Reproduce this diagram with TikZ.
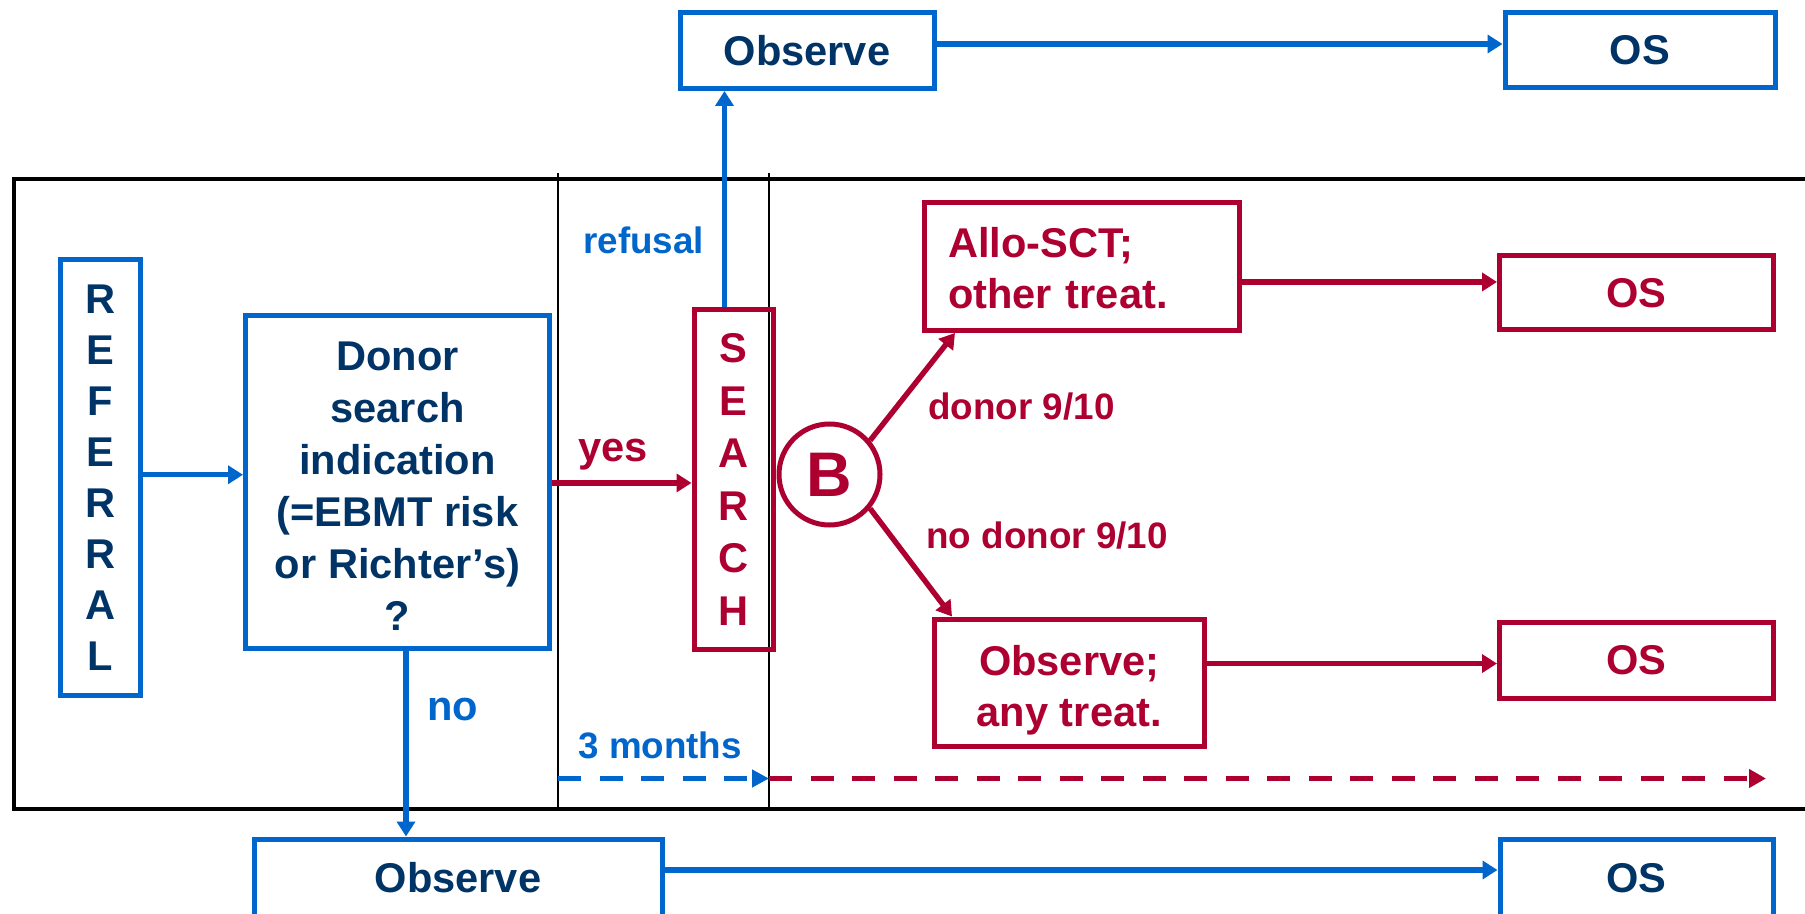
\documentclass[tikz,border=0pt]{standalone}
\usepackage{fontspec}
\setmainfont{Liberation Sans}
\usetikzlibrary{arrows.meta,calc}
\definecolor{cblue}{RGB}{0,102,204}
\definecolor{cnavy}{RGB}{0,51,102}
\definecolor{cred}{RGB}{173,0,48}
\begin{document}
\begin{tikzpicture}[x=0.5pt,y=-0.5pt,
  bbox/.style={draw=cblue,line width=2.5pt,text=cnavy,inner sep=0pt,align=center,
    font=\bfseries\fontsize{20.8pt}{26pt}\selectfont},
  rbox/.style={draw=cred,line width=2.5pt,text=cred,inner sep=0pt,align=center,
    font=\bfseries\fontsize{20.8pt}{25.5pt}\selectfont},
  tipA/.tip={Triangle[length=7.5pt,width=9pt]},
  barrow/.style={draw=cblue,line width=2.7pt,-tipA},
  rarrow/.style={draw=cred,line width=2.7pt,-tipA},
  blab/.style={text=cblue,inner sep=0pt,anchor=base west,font=\bfseries\fontsize{18.4pt}{22pt}\selectfont},
  rlab/.style={text=cred,inner sep=0pt,anchor=base west,font=\bfseries\fontsize{18.4pt}{22pt}\selectfont},
  biglab/.style={inner sep=0pt,anchor=base west,font=\bfseries\fontsize{20.8pt}{25pt}\selectfont},
  thinline/.style={draw=black,line width=0.75pt},
  dashline/.style={line width=2.6pt,dash pattern=on 11.5pt off 9.25pt}
]
\useasboundingbox (0,0) rectangle (1805,914);

% frame
\draw[line width=2pt] (1815,179) -- (13.5,179) -- (13.5,809) -- (1815,809);
\coordinate (v1t) at (558,173);
\coordinate (v1b) at (558,809);
\coordinate (v2t) at (769,173);
\coordinate (v2b) at (769,809);
\draw[thinline] (v1t) -- (v1b);
\draw[thinline] (v2t) -- (v2b);

% boxes
\node[bbox,minimum width=127pt,minimum height=38pt] (obsT) at (807,50.5) {Observe};
\node[bbox,minimum width=135pt,minimum height=37.5pt] (osT) at (1640,50.5) {OS};
\node[bbox,minimum width=40pt,minimum height=217.75pt,
  font=\bfseries\fontsize{20.8pt}{25.55pt}\selectfont] (ref) at (100.5,477.75)
  {R\\E\\F\\E\\R\\R\\A\\L};
\node[bbox,minimum width=152pt,minimum height=166.25pt,text height=148.7pt,text depth=0pt] (donor) at (397.5,481.75)
  {Donor\\search\\indication\\(=EBMT risk\\or Richter’s)\\?};
\node[rbox,minimum width=39.5pt,minimum height=170pt,
  font=\bfseries\fontsize{20.8pt}{26.25pt}\selectfont] (search) at (733.5,479.5)
  {S\\E\\A\\R\\C\\H};
\node[rbox,circle,minimum size=50.5pt,font=\bfseries\fontsize{31.5pt}{32pt}\selectfont] (B) at (829.5,474.5) {B};
\node[rbox,align=left,text width=133.75pt,inner xsep=11.75pt,minimum height=63.75pt,text height=16.5pt,text depth=25.5pt] (allo) at (1081.75,266.75)
  {Allo-SCT;\\other treat.};
\node[rbox,minimum width=136.75pt,minimum height=37.25pt] (os1) at (1636.25,292.75) {OS};
\node[rbox,minimum width=134.75pt,minimum height=63.75pt,text height=48pt,text depth=4.4pt] (obsany) at (1069.25,682.75)
  {Observe;\\any treat.};
\node[rbox,minimum width=136.75pt,minimum height=38pt] (os2) at (1636.25,660) {OS};
\node[bbox,minimum width=204pt,minimum height=39pt] (obsB) at (458,878) {Observe};
\node[bbox,minimum width=136.5pt,minimum height=39pt] (osB) at (1636.5,878) {OS};

% connectors
\draw[barrow] ([yshift=3.25pt]obsT.east) -- ([yshift=3.25pt]obsT.east -| osT.west);
\draw[barrow] ([yshift=1.5pt]ref.east) -- ([yshift=1.5pt]ref.east -| donor.west);
\draw[rarrow] ([yshift=-0.6pt]donor.east) -- ([yshift=-0.6pt]donor.east -| search.west);
\draw[barrow] ([xshift=-4.5pt]search.north) -- ([xshift=-4.5pt]search.north |- obsT.south);
\draw[rarrow] (B.40) -- ([xshift=16.5pt]allo.south west);
\draw[rarrow] (B.-40) -- ([xshift=10pt]obsany.north west);
\draw[rarrow] ([yshift=-7.6pt]allo.east) -- ([yshift=-7.6pt]allo.east -| os1.west);
\draw[rarrow] ([yshift=9.6pt]obsany.east) -- ([yshift=9.6pt]obsany.east -| os2.west);
\draw[barrow] ([xshift=4.25pt]donor.south) -- ([xshift=4.25pt]donor.south |- obsB.north);
\draw[barrow] ([yshift=4pt]obsB.east) -- ([yshift=4pt]obsB.east -| osB.west);

% dashed timeline
\coordinate (d0) at (558,778.5);
\coordinate (d1) at (769,778.5);
\coordinate (d2) at (1766,778.5);
\draw[dashline,draw=cblue,-{Triangle[length=8.5pt,width=8.5pt]}] (d0) -- (d1);
\draw[dashline,draw=cred,-{Triangle[length=8.5pt,width=9pt]}] (d1) -- (d2);

% labels
\node[blab] (lref) at (583,254) {refusal};
\node[biglab,text=cred] (lyes) at (578,462) {yes};
\node[biglab,text=cblue] (lno) at (427,720) {no};
\node[blab] (l3m) at (578,758) {3 months};
\node[rlab] (ld) at (928,420) {donor 9/10};
\node[rlab] (lnd) at (926,548) {no donor 9/10};
\end{tikzpicture}
\end{document}
